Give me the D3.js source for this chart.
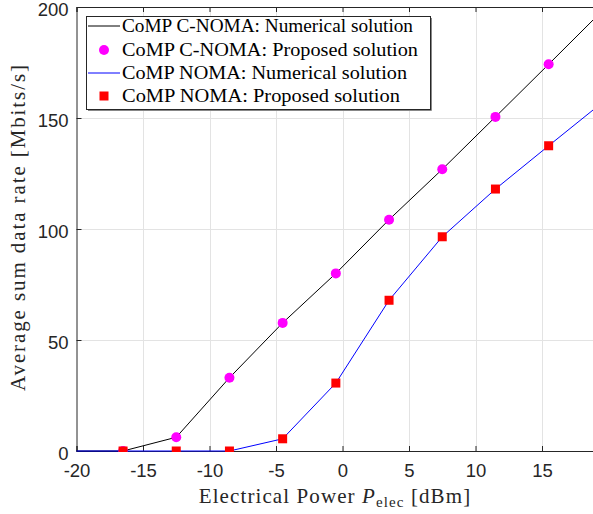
<!DOCTYPE html>
<html><head><meta charset="utf-8">
<script src="https://cdn.jsdelivr.net/npm/d3@7"></script>
<style>body{margin:0;background:#fff}svg{display:block}</style>
</head><body>
<svg id="c" width="593" height="514"></svg>
<script>
const numX = [-20.5,-16.5,-12.5,-8.5,-4.5,-0.5,3.5,7.5,11.5,15.5,19.5];
const cnomaNum = [0,0,6.2,33,57.7,80,104.2,126.9,150.5,174.2,198.1];
const nomaNum  = [0,0,0,0,5.5,30.6,67.9,96.5,118,137.5,156.8];
const propX = [-16.5,-12.5,-8.5,-4.5,-0.5,3.5,7.5,11.5,15.5];
const cnomaProp = [0,6.2,33,57.7,80,104.2,126.9,150.5,174.2];
const nomaProp  = [0,0,0,5.5,30.6,67.9,96.5,118,137.5];
const xTicks = [-20,-15,-10,-5,0,5,10,15];
const yTicks = [0,50,100,150,200];
const legendLabels = ["CoMP C-NOMA: Numerical solution","CoMP C-NOMA: Proposed solution","CoMP NOMA: Numerical solution","CoMP NOMA: Proposed solution"];

const svg = d3.select("#c");
const x = d3.scaleLinear().domain([-20,20]).range([76.5,608.5]);
const y = d3.scaleLinear().domain([0,200]).range([451,7]);
const axisCol = "#262626";
const L = 76.5, R = 608.5, T = 7, B = 451;

svg.append("rect").attr("x",L).attr("y",T).attr("width",R-L).attr("height",B-T).attr("fill","#fff");
// grid
svg.append("g").selectAll("line").data(xTicks.filter(d=>d>-20&&d<20)).join("line")
  .attr("x1",d=>Math.round(x(d))+0.5).attr("x2",d=>Math.round(x(d))+0.5).attr("y1",T).attr("y2",B)
  .attr("stroke","#e3e3e3").attr("stroke-width",1);
svg.append("g").selectAll("line").data(yTicks.filter(d=>d>0&&d<200)).join("line")
  .attr("y1",d=>Math.round(y(d))+0.5).attr("y2",d=>Math.round(y(d))+0.5).attr("x1",L).attr("x2",R)
  .attr("stroke","#e3e3e3").attr("stroke-width",1);

// axes
const fmt = d => String(d);
const xb = svg.append("g").attr("transform",`translate(0,${B})`)
  .call(d3.axisBottom(x).tickValues(xTicks).tickSize(-5).tickPadding(10).tickFormat(fmt));
const xt = svg.append("g").attr("transform",`translate(0,${T})`)
  .call(d3.axisTop(x).tickValues(xTicks).tickSize(-5).tickFormat(""));
const yl = svg.append("g").attr("transform",`translate(${L},0)`)
  .call(d3.axisLeft(y).tickValues(yTicks).tickSize(-5).tickPadding(8).tickFormat(fmt));
const yr = svg.append("g").attr("transform",`translate(${R},0)`)
  .call(d3.axisRight(y).tickValues(yTicks).tickSize(-5).tickFormat(""));
[xb,xt,yl,yr].forEach(g=>{
  g.select(".domain").attr("stroke",axisCol).attr("stroke-width",1);
  g.selectAll(".tick line").attr("stroke",axisCol);
  g.selectAll("text").attr("fill",axisCol).attr("font-family","'Liberation Sans',Arial,sans-serif").attr("font-size",18.5);
});
yl.selectAll("text").attr("dy","0.45em");
xb.selectAll("text").attr("dy","0.88em");

// clip
svg.append("clipPath").attr("id","pc").append("rect").attr("x",L).attr("y",T-1).attr("width",R-L).attr("height",B-T+2);
const plot = svg.append("g").attr("clip-path","url(#pc)");
const line = d3.line().x(d=>x(d[0])).y(d=>y(d[1]));
plot.append("path").datum(numX.map((v,i)=>[v,cnomaNum[i]])).attr("d",line)
  .attr("fill","none").attr("stroke","#000").attr("stroke-width",1);
plot.append("g").selectAll("circle").data(propX.map((v,i)=>[v,cnomaProp[i]])).join("circle")
  .attr("cx",d=>x(d[0])).attr("cy",d=>y(d[1])).attr("r",5).attr("fill","#ff00ff");
plot.append("path").datum(numX.map((v,i)=>[v,nomaNum[i]])).attr("d",line)
  .attr("fill","none").attr("stroke","#0000ff").attr("stroke-width",1);
plot.append("g").selectAll("rect").data(propX.map((v,i)=>[v,nomaProp[i]])).join("rect")
  .attr("x",d=>x(d[0])-4.5).attr("y",d=>y(d[1])-4.5).attr("width",9).attr("height",9).attr("fill","#ff0000");

// legend
const lg = svg.append("g");
lg.append("rect").attr("x",86.5).attr("y",16.5).attr("width",344).attr("height",93)
  .attr("fill","#fff").attr("stroke",axisCol).attr("stroke-width",1);
lg.append("path").attr("d","M88,110.5 H431.5 V18").attr("fill","none").attr("stroke","#888").attr("stroke-width",1);
const rows = [26,50,73,96];
const widths = [291,296,285,278];
legendLabels.forEach((t,i)=>{
  const cy = rows[i];
  if(i===0||i===2){
    lg.append("line").attr("x1",88).attr("x2",120).attr("y1",cy).attr("y2",cy)
      .attr("stroke",i===0?"#000":"#0000ff").attr("stroke-width",1);
  } else if(i===1){
    lg.append("circle").attr("cx",104).attr("cy",cy).attr("r",5).attr("fill","#ff00ff");
  } else {
    lg.append("rect").attr("x",99.5).attr("y",cy-4.5).attr("width",9).attr("height",9).attr("fill","#ff0000");
  }
  lg.append("text").attr("x",122).attr("y",cy+6).text(t)
    .attr("font-family","'Liberation Serif','Times New Roman',serif").attr("font-size",18)
    .attr("fill","#000").attr("textLength",widths[i]).attr("lengthAdjust","spacingAndGlyphs");
});

// axis titles
const xl = svg.append("text").attr("x",335).attr("y",503).attr("text-anchor","middle")
  .attr("font-family","'Liberation Serif','Times New Roman',serif").attr("font-size",21)
  .attr("letter-spacing","1.1px").attr("fill","#262626");
xl.append("tspan").text("Electrical Power ");
xl.append("tspan").attr("font-style","italic").text("P");
xl.append("tspan").attr("font-size",15).attr("dy",4).text("elec");
xl.append("tspan").attr("dy",-4).text(" [dBm]");

svg.append("text").attr("transform","translate(25,228) rotate(-90)").attr("text-anchor","middle")
  .attr("font-family","'Liberation Serif','Times New Roman',serif").attr("font-size",21).attr("fill","#262626")
  .attr("textLength",326).attr("lengthAdjust","spacing")
  .text("Average sum data rate [Mbits/s]");
</script>
</body></html>
